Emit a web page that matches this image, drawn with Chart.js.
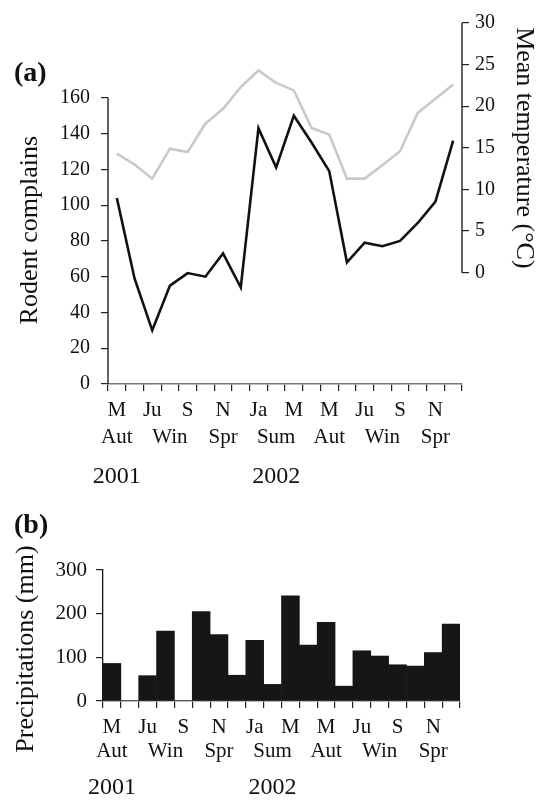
<!DOCTYPE html>
<html>
<head>
<meta charset="utf-8">
<script src="https://cdn.jsdelivr.net/npm/chart.js@4.4.1/dist/chart.umd.min.js"></script>
<style>
  body { margin: 0; background: #fff; }
  #wrap { position: relative; width: 545px; height: 800px; }
  canvas { position: absolute; left: 0; }
  #top-chart { top: 0; }
  #rain-chart { top: 500px; }
  .panel { position: absolute; left: 14px; font: bold 28px 'Liberation Serif', serif; line-height: 1; color: #111; }
</style>
</head>
<body>
<div id="wrap">
  <canvas id="top-chart" width="545" height="500"></canvas>
  <canvas id="rain-chart" width="545" height="300"></canvas>
  <div class="panel" style="top:58px">(a)</div>
  <div class="panel" style="top:510px">(b)</div>
</div>
<script>
// May 2001 .. Dec 2002
const months = ['May 01','Jun 01','Jul 01','Aug 01','Sep 01','Oct 01','Nov 01','Dec 01',
  'Jan 02','Feb 02','Mar 02','Apr 02','May 02','Jun 02','Jul 02','Aug 02','Sep 02','Oct 02','Nov 02','Dec 02'];
const monthTicks = ['M','','Ju','','S','','N','','Ja','','M','','M','','Ju','','S','','N',''];
const seasonTicks = ['Aut','','','Win','','','Spr','','','Sum','','','Aut','','','Win','','','Spr',''];
const yearTicks = ['2001','','','','','','','','','2002','','','','','','','','','',''];

const rodentComplaints = [104, 59, 30, 55, 62, 60, 73, 54, 143, 121, 150, 135, 119, 68, 79, 77, 80, 90, 102, 136];
const meanTemperature = [14.3, 13.0, 11.3, 14.9, 14.5, 17.9, 19.7, 22.3, 24.3, 22.8, 21.9, 17.4, 16.6, 11.3, 11.3, 12.9, 14.6, 19.2, 20.9, 22.6];
const precipitation = [86, 0, 58, 160, 0, 205, 152, 59, 139, 38, 241, 128, 180, 34, 115, 103, 83, 80, 111, 176];

const complaintTicks = [0, 20, 40, 60, 80, 100, 120, 140, 160];
const temperatureTicks = [0, 5, 10, 15, 20, 25, 30];
const precipitationTicks = [0, 100, 200, 300];

Chart.defaults.font.family = '"Liberation Serif", "Times New Roman", serif';
Chart.defaults.color = '#111';

// partial axis lines + axis titles placed along a value of the scale
const axisExtras = {
  id: 'axisExtras',
  afterDraw(chart, args, opts) {
    const ctx = chart.ctx;
    ctx.save();
    (opts.lines || []).forEach(l => {
      const s = chart.scales[l.scale];
      const x = s.position === 'left' ? s.right : s.left;
      ctx.strokeStyle = '#111';
      ctx.lineWidth = 1.3;
      ctx.beginPath();
      ctx.moveTo(x, s.getPixelForValue(l.from));
      ctx.lineTo(x, s.getPixelForValue(l.to));
      ctx.stroke();
    });
    (opts.titles || []).forEach(t => {
      const s = chart.scales[t.scale];
      ctx.save();
      ctx.translate(t.x, s.getPixelForValue(t.at));
      ctx.rotate(s.position === 'left' ? -Math.PI / 2 : Math.PI / 2);
      ctx.font = '26px "Liberation Serif", serif';
      ctx.fillStyle = '#111';
      ctx.textAlign = 'center';
      ctx.textBaseline = 'middle';
      ctx.fillText(t.text, 0, 0);
      ctx.restore();
    });
    ctx.restore();
  }
};

function tickMarks(len) {
  return { drawOnChartArea: false, tickLength: len, color: '#222', lineWidth: 1.2 };
}

new Chart(document.getElementById('top-chart'), {
  type: 'line',
  data: {
    labels: months,
    datasets: [
      { label: 'Rodent complains', data: rodentComplaints, yAxisID: 'y',
        borderColor: '#111', borderWidth: 2.6, pointRadius: 0, tension: 0 },
      { label: 'Mean temperature', data: meanTemperature, yAxisID: 'y2',
        borderColor: '#c9c9c9', borderWidth: 2.6, pointRadius: 0, tension: 0 }
    ]
  },
  options: {
    responsive: false,
    animation: false,
    devicePixelRatio: 1,
    layout: { padding: { top: 17 } },
    plugins: {
      legend: { display: false },
      tooltip: { enabled: false },
      axisExtras: {
        lines: [
          { scale: 'y', from: complaintTicks[0], to: complaintTicks[complaintTicks.length - 1] },
          { scale: 'y2', from: temperatureTicks[0], to: temperatureTicks[temperatureTicks.length - 1] }
        ],
        titles: [
          { scale: 'y', text: 'Rodent complains', x: 30, at: 86 },
          { scale: 'y2', text: 'Mean temperature (°C)', x: 524, at: 15 }
        ]
      }
    },
    scales: {
      x: {
        type: 'category',
        offset: true,
        grid: Object.assign(tickMarks(7), { offset: true }),
        border: { color: '#777', width: 1.5 },
        ticks: {
          autoSkip: false, maxRotation: 0, padding: 5.5,
          font: { size: 21, lineHeight: 1.29 },
          callback: (v, i) => [monthTicks[i], seasonTicks[i]]
        },
        afterFit: s => { s.height = 66.5; }
      },
      x2: {
        type: 'category',
        position: 'bottom',
        offset: true,
        grid: { display: false, drawTicks: false },
        border: { display: false },
        ticks: {
          autoSkip: false, maxRotation: 0, padding: 12,
          font: { size: 24 },
          callback: (v, i) => yearTicks[i]
        },
        afterFit: s => { s.height = 49.5; }
      },
      y: {
        position: 'left',
        min: 0,
        max: 201.8,
        border: { display: false },
        grid: tickMarks(7),
        ticks: { padding: 11, font: { size: 20 } },
        afterBuildTicks: s => { s.ticks = complaintTicks.map(v => ({ value: v })); },
        afterFit: s => { s.width = 108; }
      },
      y2: {
        position: 'right',
        min: -13.37,
        max: 30,
        border: { display: false },
        grid: tickMarks(7),
        ticks: { padding: 6, font: { size: 20 } },
        afterBuildTicks: s => { s.ticks = temperatureTicks.map(v => ({ value: v })); },
        afterFit: s => { s.width = 83; }
      }
    }
  },
  plugins: [axisExtras]
});

new Chart(document.getElementById('rain-chart'), {
  type: 'bar',
  data: {
    labels: months,
    datasets: [{
      label: 'Precipitations',
      data: precipitation,
      backgroundColor: '#161616',
      borderWidth: 0,
      barPercentage: 1,
      categoryPercentage: 1
    }]
  },
  options: {
    responsive: false,
    animation: false,
    devicePixelRatio: 1,
    layout: { padding: { top: 70, right: 85 } },
    plugins: {
      legend: { display: false },
      tooltip: { enabled: false },
      axisExtras: {
        titles: [
          { scale: 'y', text: 'Precipitations (mm)', x: 26, at: 119 }
        ]
      }
    },
    scales: {
      x: {
        type: 'category',
        offset: true,
        grid: Object.assign(tickMarks(7), { offset: true }),
        border: { color: '#777', width: 1.5 },
        ticks: {
          autoSkip: false, maxRotation: 0, padding: 8,
          font: { size: 21, lineHeight: 1.14 },
          callback: (v, i) => [monthTicks[i], seasonTicks[i]]
        },
        afterFit: s => { s.height = 63; }
      },
      x2: {
        type: 'category',
        position: 'bottom',
        offset: true,
        grid: { display: false, drawTicks: false },
        border: { display: false },
        ticks: {
          autoSkip: false, maxRotation: 0, padding: 9.6,
          font: { size: 24 },
          callback: (v, i) => yearTicks[i]
        },
        afterFit: s => { s.height = 36; }
      },
      y: {
        position: 'left',
        min: 0,
        max: 300,
        border: { color: '#111', width: 1.3 },
        grid: tickMarks(7),
        ticks: { padding: 9, font: { size: 21 } },
        afterBuildTicks: s => { s.ticks = precipitationTicks.map(v => ({ value: v })); },
        afterFit: s => { s.width = 103; }
      }
    }
  },
  plugins: [axisExtras]
});
</script>
</body>
</html>
